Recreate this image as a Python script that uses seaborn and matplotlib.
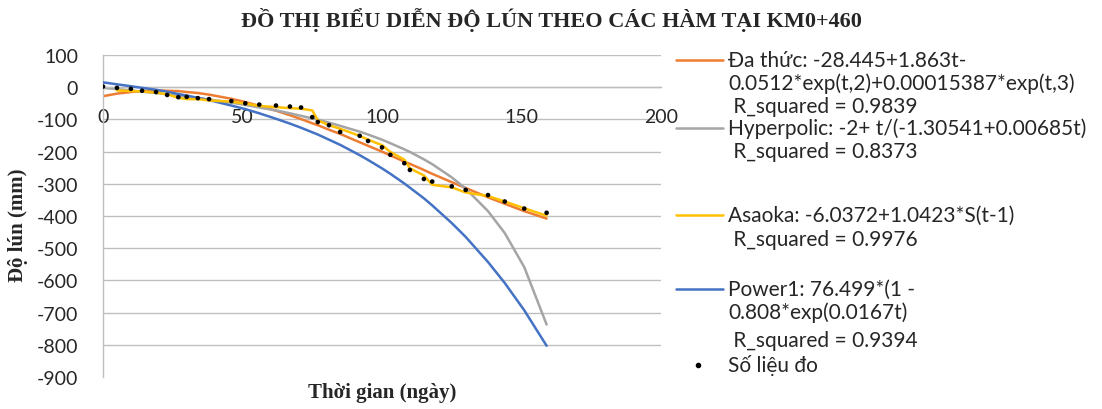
import matplotlib
matplotlib.use('Agg')
import matplotlib.pyplot as plt
from matplotlib.lines import Line2D
import seaborn as sns
import pandas as pd

# số liệu (ngày, mm)
t_days = [0, 5, 10, 14, 19, 23, 27, 30, 34, 38, 46, 51, 56, 62, 67, 71, 75, 77,
          81, 85, 92, 95, 100, 103, 108, 110, 115, 118, 125, 130, 138, 144, 151, 159]
measured = [2, -2, -5, -11, -15, -24, -31, -30, -34, -37, -43, -50, -54, -57, -60, -63,
            -93, -108, -118, -139, -151, -167, -187, -210, -236, -257, -285, -293,
            -308, -319, -335, -355, -377, -390]
poly = [-28, -20, -15, -12, -10, -11, -12, -15, -18, -23, -36, -46, -58, -73, -87, -99,
        -112, -118, -132, -145, -171, -182, -200, -212, -231, -238, -257, -269,
        -295, -313, -342, -362, -385, -408]
hyper = [-2, -6, -10, -14, -18, -22, -26, -29, -34, -38, -48, -55, -63, -72, -81, -89,
         -97, -101, -110, -120, -138, -147, -163, -174, -193, -201, -224, -239,
         -280, -315, -385, -453, -559, -737]
asaoka = [-10, -12, -13, -17, -22, -33, -37, -37, -41, -45, -51, -58, -62, -65, -67,
          -72, -103, -118, -129, -151, -163, -180, -201, -225, -252, -274, -303,
          -311, -327, -338, -355, -376, -399]
power = [15, 9, 3, -2, -8, -14, -21, -26, -33, -40, -57, -68, -81, -98, -113, -126,
         -140, -147, -163, -179, -211, -226, -252, -269, -299, -312, -345, -367,
         -422, -465, -543, -608, -693, -803]

x_ticks = [0, 50, 100, 150, 200]
y_ticks = list(range(-900, 101, 100))

title = 'ĐỒ THỊ BIỂU DIỄN ĐỘ LÚN THEO CÁC HÀM TẠI KM0+460'
legend_entries = [
    ('#ED7D31', 'line', ['Đa thức: -28.445+1.863t-',
                         '0.0512*exp(t,2)+0.00015387*exp(t,3)',
                         ' R_squared = 0.9839']),
    ('#A5A5A5', 'line', ['Hyperpolic: -2+ t/(-1.30541+0.00685t)',
                         ' R_squared = 0.8373']),
    ('#FFC000', 'line', ['Asaoka: -6.0372+1.0423*S(t-1)',
                         ' R_squared = 0.9976']),
    ('#4472C4', 'line', ['Power1: 76.499*(1 -',
                         '0.808*exp(0.0167t)',
                         ' R_squared = 0.9394']),
    ('black', 'dot', ['Số liệu đo']),
]
# vị trí dòng chữ chú thích (pixel từ trên xuống)
legend_rows = [[61, 84, 107], [129, 152], [216, 240], [290, 313, 341], [366]]

df = pd.DataFrame({'t': t_days, 'do': measured, 'poly': poly,
                   'hyper': hyper, 'power': power})
df_asaoka = pd.DataFrame({'t': t_days[1:], 'asaoka': asaoka})

sns.set_style('white')
plt.rcParams['font.family'] = ['Lato', 'DejaVu Sans']
plt.rcParams['axes.unicode_minus'] = False

W, H = 1102, 410
fig = plt.figure(figsize=(W / 100, H / 100), dpi=100)
ax = fig.add_axes([103 / W, 1 - 378 / H, 558 / W, 322 / H])

grid_c = '#BFBFBF'
for yv in y_ticks[1:]:
    ax.axhline(yv, color=grid_c, lw=1, zorder=0)

sns.lineplot(data=df, x='t', y='poly', color='#ED7D31', lw=1.8, ax=ax, zorder=2)
sns.lineplot(data=df, x='t', y='hyper', color='#A5A5A5', lw=1.8, ax=ax, zorder=2)
sns.lineplot(data=df, x='t', y='power', color='#4472C4', lw=1.8, ax=ax, zorder=3)
sns.lineplot(data=df_asaoka, x='t', y='asaoka', color='#FFC000', lw=1.8, ax=ax, zorder=4)
sns.scatterplot(data=df, x='t', y='do', color='black', s=11, edgecolor='none',
                ax=ax, zorder=5)

ax.set_xlim(0, 200)
ax.set_ylim(-900, 100)
ax.set_xticks(x_ticks)
ax.set_yticks(y_ticks)
ax.set_xlabel('')
ax.set_ylabel('')
ax.spines['bottom'].set_position(('data', 0))
ax.spines['top'].set_visible(False)
ax.spines['right'].set_visible(False)
for s in ['left', 'bottom']:
    ax.spines[s].set_color(grid_c)
    ax.spines[s].set_linewidth(1)
ax.tick_params(axis='y', direction='out', length=7, color=grid_c, pad=11,
               labelsize=14, labelcolor='#262626')
ax.tick_params(axis='x', direction='out', length=5, color=grid_c, pad=10,
               labelsize=14, labelcolor='#262626')

fig.text(0.5, 1 - 20 / H, title, ha='center', va='center', family='Liberation Serif',
         fontweight='bold', fontsize=16)
fig.text(18 / W, 1 - 225 / H, 'Độ lún (mm)', rotation=90, ha='center', va='center',
         family='Liberation Serif', fontweight='bold', fontsize=15)
fig.text(382 / W, 1 - 393 / H, 'Thời gian (ngày)', ha='center', va='center',
         family='Liberation Serif', fontweight='bold', fontsize=15)

# chú thích
for (color, kind, lines), rows in zip(legend_entries, legend_rows):
    y0 = 1 - rows[0] / H
    if kind == 'line':
        fig.add_artist(Line2D([676 / W, 723 / W], [y0, y0], color=color, lw=1.8,
                              transform=fig.transFigure))
    else:
        fig.add_artist(Line2D([698 / W], [y0], marker='o', markersize=3, color=color,
                              lw=0, transform=fig.transFigure))
    for txt, r in zip(lines, rows):
        fig.text(728 / W, 1 - r / H, txt, ha='left', va='center', fontsize=15,
                 color='#262626')

fig.savefig('out.png', dpi=100)
plt.close(fig)
